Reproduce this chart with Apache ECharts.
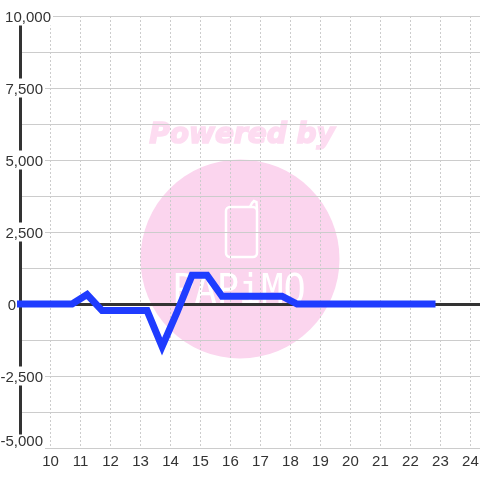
<!DOCTYPE html>
<html><head><meta charset="utf-8">
<style>html,body{margin:0;padding:0;background:#fff}#c{width:480px;height:480px}</style>
<script src="https://cdn.jsdelivr.net/npm/echarts@6/dist/echarts.min.js"></script>
</head><body><div id="c"></div>
<script>
var hours = [9, 9.72, 10.22, 10.72, 11.22, 11.72, 12.22, 12.72, 13.22, 13.72, 14.22, 14.72, 15.22, 15.72, 16.22, 16.72, 17.22, 17.72, 18.22, 18.72, 19.22, 19.72, 20.22, 20.72, 21.22, 21.72, 22.22, 22.72];
var values = [0, 0, 0, 0, 330, -230, -230, -230, -230, -1480, -280, 1000, 1000, 270, 270, 270, 270, 270, 0, 0, 0, 0, 0, 0, 0, 0, 0, 0];
var yLabels = {'10000':'10,000','7500':'7,500','5000':'5,000','2500':'2,500','0':'0','-2500':'-2,500','-5000':'-5,000'};
var yPad = {'10000':0,'7500':8,'5000':8,'2500':8,'0':35,'-2500':8,'-5000':8};
var watermarkTop = 'Powered by';
var watermarkBrand = 'PAPiMO';
var pink = '#fbd5ee';
var pinkText = '#fddcf1';
var chart = echarts.init(document.getElementById('c'), null, {renderer:'canvas'});
var xCommon = {type:'value', min:9, max:24.32, interval:1};
chart.setOption({
  animation:false,
  backgroundColor:'#fff',
  grid:{left:20.5, right:0, top:16, bottom:32, containLabel:false, outerBoundsMode:'none'},
  graphic:[
    {type:'circle', z:-10, silent:true, shape:{cx:240,cy:259,r:99.5}, style:{fill:pink}},
    {type:'text', z:-9, silent:true, style:{x:242,y:136,text:watermarkTop,fill:pinkText,stroke:pinkText,lineWidth:1.6,align:'center',verticalAlign:'middle',font:'italic bold 28px "DejaVu Sans"'}},
    {type:'rect', z:-9, silent:true, shape:{x:226,y:207,width:31,height:50,r:4}, style:{fill:'none',stroke:'#fff',lineWidth:2.5}},
    {type:'polyline', z:-9, silent:true, shape:{points:[[250,207],[252,203],[254,201],[256.5,202],[257,210]]}, style:{fill:'none',stroke:'#fff',lineWidth:2.5}},
    {type:'text', z:-9, silent:true, x:239, y:292, scaleY:1.1, style:{x:0,y:0,text:watermarkBrand,fill:'#fff',align:'center',verticalAlign:'middle',font:'37px "DejaVu Sans Mono"'}}
  ],
  xAxis:[
    Object.assign({}, xCommon, {
      position:'bottom',
      axisLine:{onZero:false, show:true, lineStyle:{color:'#ccc',width:1}},
      axisTick:{show:false},
      axisLabel:{color:'#333',fontSize:15,fontFamily:'"Liberation Sans"',margin:6,
        formatter:function(v){return (v>=10&&v<=24&&Math.floor(v)===v)?String(v):'';}},
      splitLine:{show:true,lineStyle:{color:'#ccc',width:1,type:[2,2]}}
    }),
    Object.assign({}, xCommon, {
      position:'bottom',
      axisLine:{onZero:true, show:true, lineStyle:{color:'#333',width:3}},
      axisTick:{show:false}, axisLabel:{show:false}, splitLine:{show:false}
    })
  ],
  yAxis:{
    type:'value', min:-5000, max:10000, interval:1250,
    axisLine:{show:true,onZero:false,lineStyle:{color:'#333',width:3}},
    axisTick:{show:false},
    splitLine:{show:true,lineStyle:{color:'#ccc',width:1}},
    axisLabel:{inside:true, align:'right', margin:32.5, showMinLabel:true, showMaxLabel:true,
      verticalAlignMinLabel:'middle', verticalAlignMaxLabel:'middle',
      formatter:function(v){var k=String(v);var s=(v===-5000)?'b':'a';return yLabels[k]?'{'+s+'|'+yLabels[k]+'}{p'+yPad[k]+'|}':'';},
      rich:{
        a:{color:'#333',fontSize:15,fontFamily:'"Liberation Sans"',backgroundColor:'#fff',padding:[4,2,0,0]},
        b:{color:'#333',fontSize:15,fontFamily:'"Liberation Sans"',backgroundColor:'#fff',padding:[0,2,12,0]},
        p0:{width:0},p8:{width:8},p35:{width:35}
      }}
  },
  series:[{
    type:'line', xAxisIndex:0, yAxisIndex:0, showSymbol:false, symbol:'none', clip:false, z:5,
    lineStyle:{color:'#1f3cff',width:7,cap:'square',join:'miter'},
    data:hours.map(function(h,i){return [h,values[i]];})
  }]
});
</script></body></html>
